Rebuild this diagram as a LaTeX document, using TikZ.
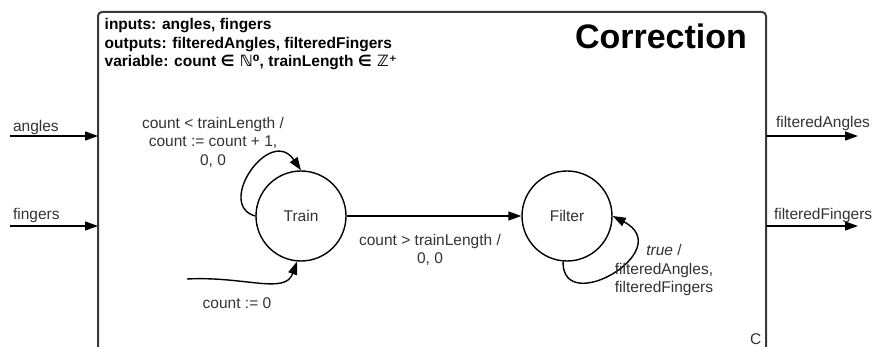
\documentclass[tikz,border=0pt]{standalone}
\usepackage{fontspec}
\setmainfont{Liberation Sans}
\newfontfamily\symfont{DejaVu Sans}
\usetikzlibrary{arrows.meta}
\definecolor{FrameGray}{HTML}{3A3A3A}
\definecolor{LabelGray}{HTML}{333333}

\begin{document}
\begin{tikzpicture}[x=1pt, y=-1pt, line width=1.4pt,
  every node/.style={font=\fontsize{15.5}{18.5}\selectfont, align=center, text=LabelGray},
  state/.style={circle, draw, minimum size=90pt, inner sep=0pt},
  flow/.style={-{Triangle[length=13pt,width=9pt]}}]
  \useasboundingbox (0,0) rectangle (874,347);
  \draw[FrameGray, line width=2pt, rounded corners=4pt] (98,365) -- (98,12) -- (766,12) -- (766,365);
  \node[anchor=north west, align=left, inner sep=0pt, text=black,
        font=\fontsize{15.5}{18.5}\selectfont\bfseries] (header) at (104,18)
  {inputs: angles, fingers\\
   outputs: filteredAngles, filteredFingers\\
   variable: count {\symfont ∈ ℕ⁰}, trainLength {\symfont ∈ ℤ⁺}};
  \node[anchor=east, text=black, font=\fontsize{34}{40}\selectfont\bfseries] (title) at (751,36) {Correction};
  \node[anchor=base east, inner sep=1pt] (corner) at (763,344) {C};
  \node[state] (train) at (301,216) {Train};
  \node[state] (filter) at (567,216) {Filter};
  \draw[flow] (train) -- (filter);
  \node (gtlbl) at (430,250) {count > trainLength /\\0, 0};
  \draw[flow] (train.180) .. controls (215,205) and (270,125) .. (train.north);
  \node (ltlbl) at (213,142) {count < trainLength /\\count := count + 1,\\0, 0};
  \coordinate (init) at (187,279);
  \draw[flow] (init) .. controls (245,276) and (285,295) .. (train.265);
  \node (initlbl) at (237,303) {count := 0};
  \draw[flow] (filter.265) .. controls (562,318) and (678,250) .. (filter.east);
  \node (truelbl) at (664,270) {\textit{true} /\\filteredAngles,\\filteredFingers};
  \coordinate (angIn) at (10,136);
  \coordinate (angBox) at (98,136);
  \coordinate (finIn) at (10,226);
  \coordinate (finBox) at (98,226);
  \draw[flow] (angIn) -- (angBox);
  \draw[flow] (finIn) -- (finBox);
  \node[anchor=west] (anglbl) at (9,127) {angles};
  \node[anchor=west] (finlbl) at (9,215) {fingers};
  \coordinate (fAngBox) at (766,136);
  \coordinate (fAngOut) at (858,136);
  \coordinate (fFinBox) at (766,226);
  \coordinate (fFinOut) at (858,226);
  \draw[flow] (fAngBox) -- (fAngOut);
  \draw[flow] (fFinBox) -- (fFinOut);
  \node[anchor=west] (fanglbl) at (772,123) {filteredAngles};
  \node[anchor=west] (ffinlbl) at (770,215) {filteredFingers};
\end{tikzpicture}
\end{document}
